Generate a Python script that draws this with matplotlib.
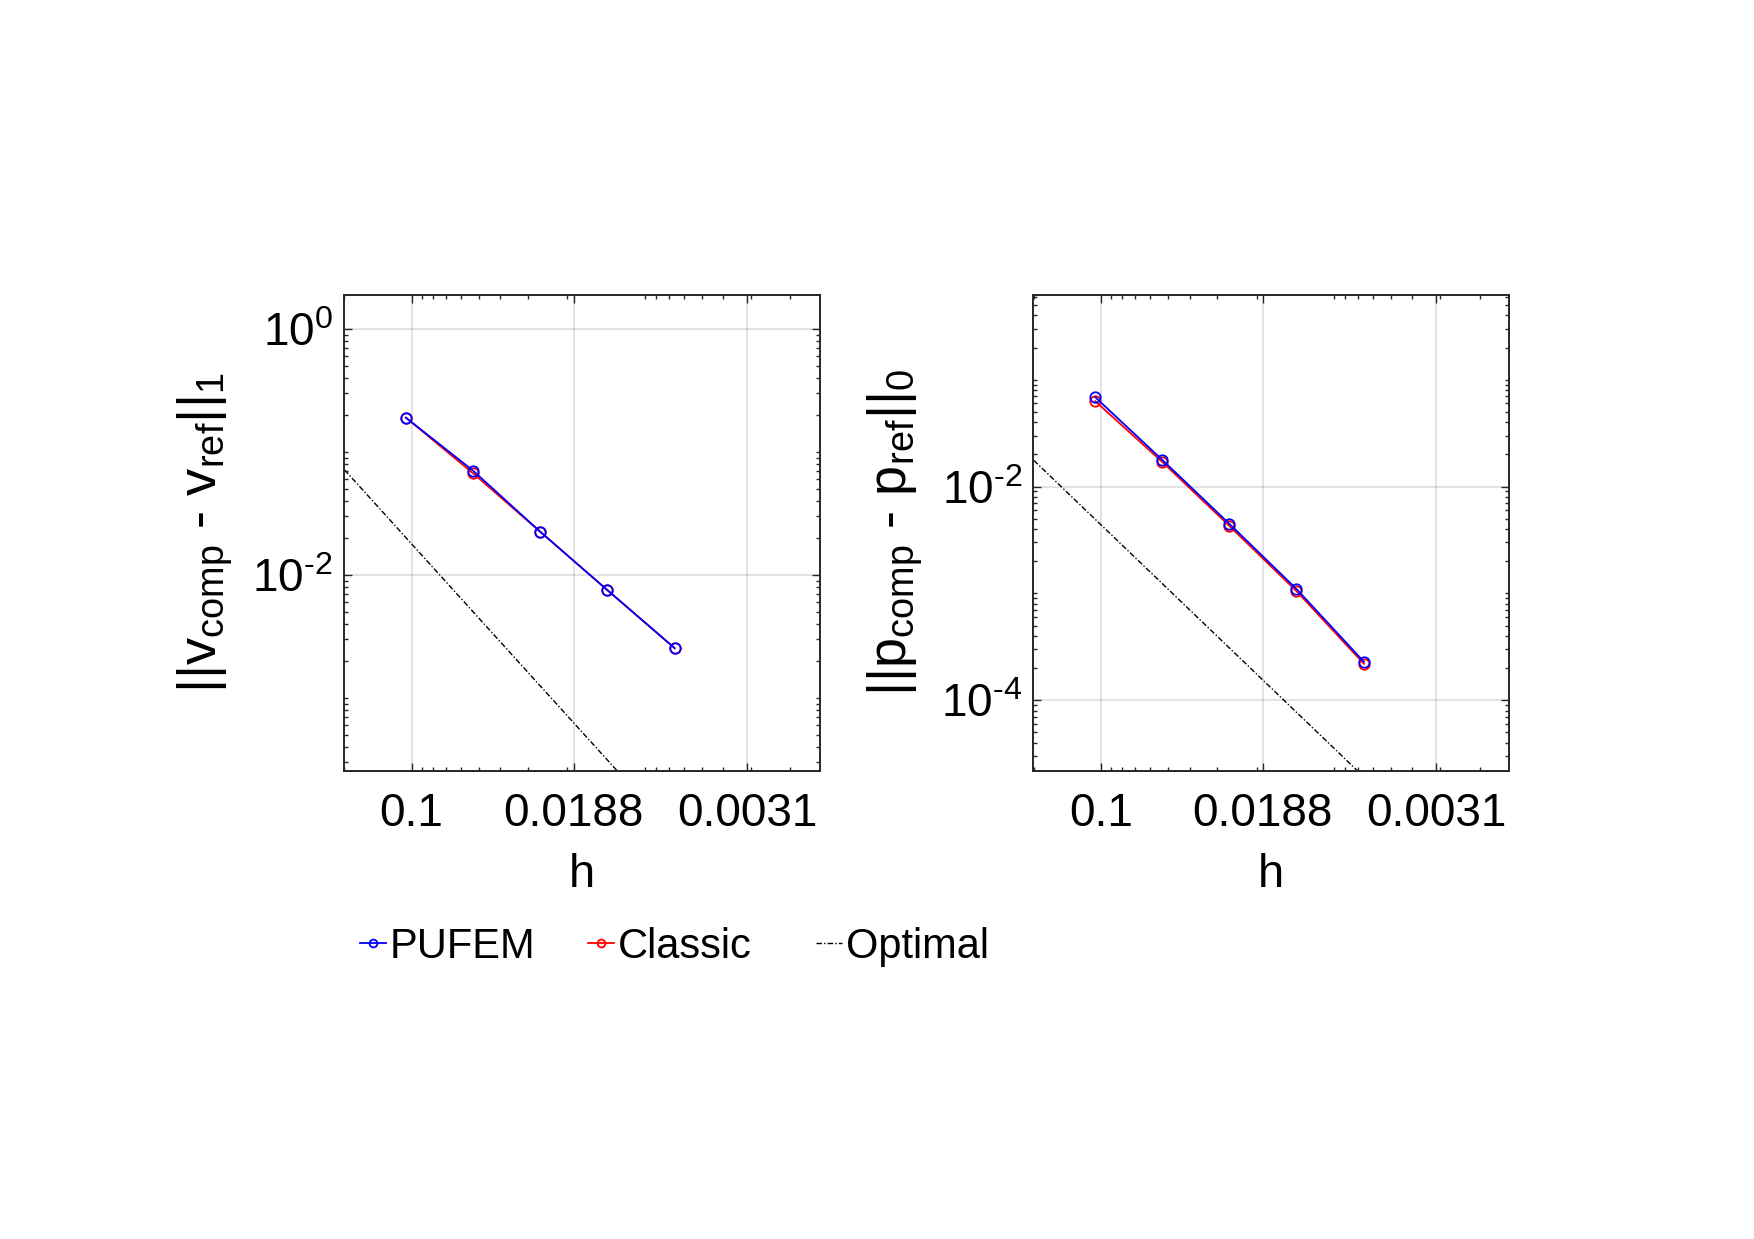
import numpy as np
import matplotlib
matplotlib.use("Agg")
import matplotlib.pyplot as plt
from matplotlib.ticker import FixedLocator, LogLocator, NullFormatter, FuncFormatter

plt.rcParams['font.family'] = ['Liberation Sans', 'DejaVu Sans']
plt.rcParams['mathtext.fontset'] = 'custom'
plt.rcParams['mathtext.rm'] = 'Liberation Sans'
plt.rcParams['mathtext.it'] = 'Liberation Sans:italic'
plt.rcParams['mathtext.bf'] = 'Liberation Sans:bold'

# ---------------- data ----------------
h = [0.106, 0.053, 0.0265, 0.01325, 0.0066]
v_pufem = [0.190, 0.0705, 0.0225, 0.00755, 0.00254]
v_classic = [0.190, 0.0671, 0.0225, 0.00755, 0.00254]
p_pufem = [0.0687, 0.01778, 0.00448, 0.00110, 2.29e-4]
p_classic = [0.0631, 0.0170, 0.00428, 0.00105, 2.19e-4]
opt_h = [0.2, 0.0014]
opt_v = [0.0716, 3.5e-6]
opt_p = [0.0176, 8.6e-7]

xtick_vals = [0.1, 0.01875, 0.003125]
xtick_labels = ['0.1', '0.0188', '0.0031']
ytick_vals = [1e-6, 1e-4, 1e-2, 1e0]
xlim = (0.201, 0.00147)
ylim_v = (2.56e-4, 1.90)
ylim_p = (2.19e-5, 0.626)
ylabel_v = r'||v$_{\mathregular{comp}}$ - v$_{\mathregular{ref}}$||$_{\mathregular{1}}$'
ylabel_p = r'||p$_{\mathregular{comp}}$ - p$_{\mathregular{ref}}$||$_{\mathregular{0}}$'
legend_labels = ['PUFEM', 'Classic', 'Optimal']

# ---------------- figure ----------------
W, H = 1754, 1239
fig = plt.figure(figsize=(W / 100, H / 100), dpi=100)
fig.patch.set_facecolor('white')

axcol = (0.15, 0.15, 0.15)
TICK_FS = 33


def yfmt(val, pos):
    e = int(round(np.log10(val)))
    return r'10$^{\mathregular{%s}}$' % (str(e).replace('-', '\u2010'))


def make_ax(left_px, yp, yc, yopt, ylim, ylabel):
    ax = fig.add_axes([left_px / W, (H - 770.7) / H, 476 / W, 476 / H])
    ax.set_xscale('log')
    ax.set_yscale('log')
    l_opt, = ax.plot(opt_h, yopt, color='k', lw=1.0, ls=(0, (4, 1.5, 1, 1.5)), zorder=2)
    l_c, = ax.plot(h, yc, color=(1, 0, 0), lw=1.3, marker='o', ms=7.5,
                   mfc='none', mew=1.3, zorder=3)
    l_p, = ax.plot(h, yp, color=(0, 0, 1), lw=1.3, marker='o', ms=7.5,
                   mfc='none', mew=1.3, zorder=4)
    ax.set_xlim(*xlim)
    ax.set_ylim(*ylim)
    ax.xaxis.set_major_locator(FixedLocator(xtick_vals))
    ax.set_xticklabels(xtick_labels)
    ax.xaxis.set_minor_locator(LogLocator(base=10, subs=np.arange(2, 10), numticks=50))
    ax.xaxis.set_minor_formatter(NullFormatter())
    ax.yaxis.set_major_locator(FixedLocator(ytick_vals))
    ax.yaxis.set_major_formatter(FuncFormatter(yfmt))
    ax.yaxis.set_minor_locator(LogLocator(base=10, subs=np.arange(1, 10), numticks=50))
    ax.yaxis.set_minor_formatter(NullFormatter())
    ax.tick_params(which='both', direction='in', top=True, right=True,
                   color=axcol, width=1.0, labelsize=TICK_FS, labelcolor='black')
    ax.tick_params(which='major', length=5.5)
    ax.tick_params(which='minor', length=3)
    ax.tick_params(axis='x', which='major', pad=15)
    ax.tick_params(axis='y', which='major', pad=8)
    ax.grid(True, which='major', color=axcol, alpha=0.15, lw=1.2)
    for s in ax.spines.values():
        s.set_color(axcol)
        s.set_linewidth(1.4)
    ax.set_xlabel('h', fontsize=34)
    ax.xaxis.set_label_coords(0.5, -0.173)
    ax.set_ylabel(ylabel, fontsize=39)
    ax.yaxis.set_label_coords(-0.228, 0.5)
    return ax, l_p, l_c, l_opt


ax1, lp, lc, lo = make_ax(344, v_pufem, v_classic, opt_v, ylim_v, ylabel_v)
ax2, _, _, _ = make_ax(1033.3, p_pufem, p_classic, opt_p, ylim_p, ylabel_p)

# legend: three equally spaced entries
handles = [lp, lc, lo]
xs = [360, 588, 816]
for hd, lab, x in zip(handles, legend_labels, xs):
    fig.legend(handles=[hd], labels=[lab], loc='center left',
               bbox_to_anchor=(x / W, 1 - 947 / H), frameon=False,
               fontsize=30, handlelength=0.62, handletextpad=0.1,
               borderpad=0, borderaxespad=0, numpoints=1, markerscale=0.75)

fig.savefig('out.png', dpi=100, facecolor='white')
